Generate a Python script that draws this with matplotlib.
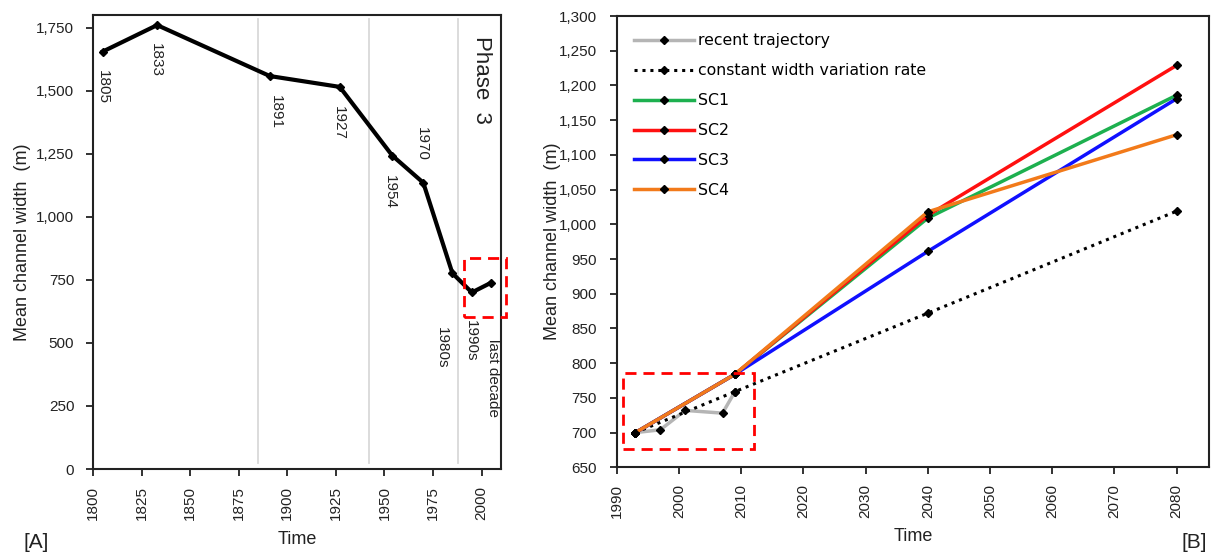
import matplotlib.pyplot as plt
from matplotlib.patches import Rectangle
from matplotlib.ticker import FuncFormatter

plt.rcParams['font.family'] = ['Liberation Sans', 'DejaVu Sans']

# panel A: historical trajectory
hist_years = [1805, 1833, 1891, 1927, 1954, 1970, 1985, 1995, 2005]
hist_width = [1655, 1760, 1558, 1515, 1243, 1135, 776, 700, 739]
hist_labels = ['1805', '1833', '1891', '1927', '1954', '1970', '1980s', '1990s', 'last decade']
label_x = [1805, 1832.5, 1894, 1926.7, 1953, 1969.2, 1979.5, 1994.4, 2006]
label_y = [1513, 1623, 1416, 1371, 1097, 1287, 482, 508, 362]
phase_lines = [1885, 1942, 1988]

# panel B: recent trajectory and scenarios
recent_years = [1993, 1997, 2001, 2007, 2009]
recent_width = [700, 704, 732, 728, 759]
const_years = [1993, 2009, 2040, 2080]
const_width = [700, 759, 872, 1019]
sc_years = [1993, 2009, 2040, 2080]
sc_names = ['SC1', 'SC2', 'SC3', 'SC4']
sc_width = {
    'SC1': [700, 784, 1009, 1186],
    'SC2': [700, 784, 1013, 1229],
    'SC3': [700, 784, 961, 1181],
    'SC4': [700, 784, 1018, 1129],
}
sc_colors = {'SC1': '#1db04f', 'SC2': '#ff1010', 'SC3': '#1010ff', 'SC4': '#f27a1a'}

fig = plt.figure(figsize=(12.16, 5.54), dpi=100)
axA = fig.add_axes([0.0765, 0.1534, 0.3355, 0.8195])
axB = fig.add_axes([0.5072, 0.1565, 0.4871, 0.8146])

comma = FuncFormatter(lambda v, p: f'{int(v):,}')
mk = dict(marker='D', markersize=4.5, markerfacecolor='black', markeredgecolor='black')

# ---- A ----
for x in phase_lines:
    axA.plot([x, x], [25, 1785], color='#d9d9d9', lw=1.3, zorder=1)
axA.plot(hist_years, hist_width, color='black', lw=3, zorder=3, **mk)
for t, x, y in zip(hist_labels, label_x, label_y):
    axA.text(x, y, t, rotation=270, ha='center', va='center', fontsize=11, color='#222222')
axA.text(1999.9, 1543, 'Phase  3', rotation=270, ha='center', va='center', fontsize=16, color='#222222')
axA.add_patch(Rectangle((1991.2, 601), 21.6, 234, fill=False, edgecolor='red',
                        lw=2, linestyle=(0, (4, 2.5)), clip_on=False, zorder=4))
axA.set_xlim(1800, 2010)
axA.set_ylim(0, 1800)
axA.set_xticks(range(1800, 2001, 25))
axA.set_yticks(range(0, 1751, 250))
axA.yaxis.set_major_formatter(comma)
axA.set_ylabel('Mean channel width  (m)', fontsize=13, color='#222222', labelpad=4)
axA.set_xlabel('Time', fontsize=13, color='#222222', labelpad=8)
axA.tick_params(axis='y', pad=8.5)

# ---- B ----
axB.plot(recent_years, recent_width, color='#b5b5b5', lw=2.5, label='recent trajectory', zorder=2, **mk)
axB.plot(const_years, const_width, color='black', lw=2.2, linestyle=(0, (1, 1.6)),
         label='constant width variation rate', zorder=2, **mk)
for name in sc_names:
    axB.plot(sc_years, sc_width[name], color=sc_colors[name], lw=2.5, label=name, zorder=3, **mk)
axB.add_patch(Rectangle((1991.0, 676.5), 21.0, 109.5, fill=False, edgecolor='red',
                        lw=2, linestyle=(0, (4, 2.5)), zorder=4))
axB.set_xlim(1990, 2085.2)
axB.set_ylim(650, 1300)
axB.set_xticks(range(1990, 2081, 10))
axB.set_yticks(range(650, 1301, 50))
axB.yaxis.set_major_formatter(comma)
axB.set_ylabel('Mean channel width  (m)', fontsize=13, color='#222222', labelpad=-1.5)
axB.set_xlabel('Time', fontsize=13, color='#222222', labelpad=7)
axB.tick_params(axis='y', pad=9.5)
axB.legend(loc='upper left', frameon=False, prop={'family': 'DejaVu Sans', 'size': 11.3},
           handlelength=3.8, handletextpad=0.3, labelspacing=0.95, borderaxespad=0.7,
           numpoints=1)

for ax in (axA, axB):
    for s in ax.spines.values():
        s.set_linewidth(1.5)
        s.set_color('#222222')
    ax.tick_params(direction='out', length=5, width=1.3, labelsize=11, colors='#222222')
    ax.tick_params(axis='x', labelrotation=90, pad=7)

fig.text(0.019, 0.01, '[A]', fontsize=15, color='#222222')
fig.text(0.972, 0.01, '[B]', fontsize=15, color='#222222')

fig.savefig('out.png', dpi=100)
